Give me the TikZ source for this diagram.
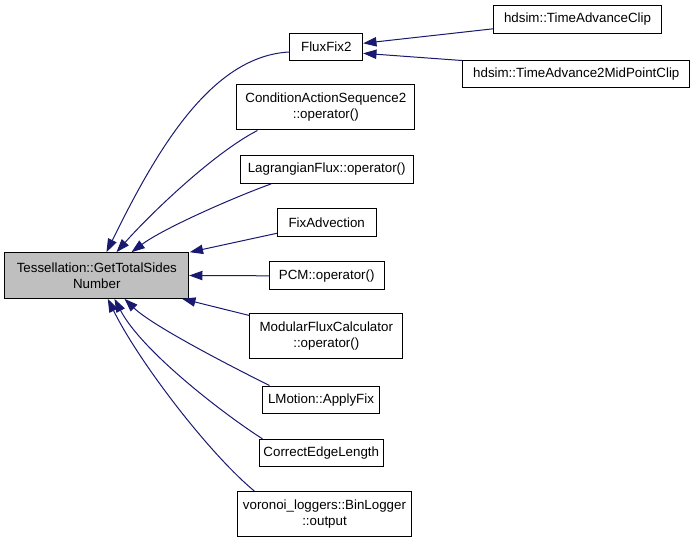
\documentclass[tikz,border=0pt]{standalone}
\usepackage{fontspec}
\setmainfont{Liberation Sans}
\usetikzlibrary{arrows.meta}
\definecolor{edgeblue}{HTML}{191970}
\definecolor{mainfill}{HTML}{BFBFBF}
\begin{document}
\begin{tikzpicture}[x=0.75pt,y=-0.75pt,
  box/.style={draw=black,line width=0.75pt,fill=white,inner sep=0pt,align=center,
    font=\fontsize{10}{12}\selectfont},
  wh/.style 2 args={minimum width=#1*0.75pt,minimum height=#2*0.75pt},
  arr/.style={draw=edgeblue,line width=0.75pt,{Triangle[length=10pt,width=7pt]}-}]
\useasboundingbox (0,0) rectangle (696,541);
% nodes
\node[box,fill=mainfill,wh={183.7}{45.6}] (main) at (96.8,275.5) {Tessellation::GetTotalSides\\Number};
\node[box,wh={72.7}{27.4}] (ff2) at (326.3,47) {FluxFix2};
\node[box,wh={178.3}{45}] (cas) at (325.8,107.5) {ConditionActionSequence2\\::operator()};
\node[box,wh={173.3}{28.3}] (lag) at (326.7,169.2) {LagrangianFlux::operator()};
\node[box,wh={98.7}{28.4}] (fix) at (326.7,222.5) {FixAdvection};
\node[box,wh={114.7}{28.3}] (pcm) at (326.7,275.8) {PCM::operator()};
\node[box,wh={152.7}{45}] (mod) at (326.3,335.8) {ModularFluxCalculator\\::operator()};
\node[box,wh={116.6}{27.3}] (lmo) at (321,399.7) {LMotion::ApplyFix};
\node[box,wh={124}{26.7}] (cel) at (321.3,452.7) {CorrectEdgeLength};
\node[box,wh={174.4}{45}] (vor) at (324.5,514.2) {voronoi\_loggers::BinLogger\\::output};
\node[box,wh={168.4}{28.3}] (tac) at (577.5,19.2) {hdsim::TimeAdvanceClip};
\node[box,wh={227.3}{27.3}] (tam) at (576.3,73.7) {hdsim::TimeAdvance2MidPointClip};
% edges
\draw[arr] ([shift={(102,0)}]main.north west) .. controls (155.4,153) and (210,56) .. ([shift={(0,5)}]ff2.west);
\draw[arr] ([shift={(112,0)}]main.north west) .. controls (149.9,214.4) and (213.6,153) .. ([shift={(21.3,0)}]cas.south west);
\draw[arr] ([shift={(127,0)}]main.north west) .. controls (164,228) and (234.3,197.2) .. ([shift={(31.7,0)}]lag.south west);
\draw[arr] ([shift={(0.6,0)}]main.north east) -- ([shift={(0,10.8)}]fix.west);
\draw[arr] (main.east) -- (pcm.west);
\draw[arr] ([shift={(-7,0)}]main.south east) -- ([shift={(0,2.7)}]mod.north west);
\draw[arr] ([shift={(120,0)}]main.south west) .. controls (153,326.4) and (234,367.8) .. ([shift={(7.3,0)}]lmo.north west);
\draw[arr] ([shift={(110,0)}]main.south west) .. controls (142,351.4) and (224.3,414.5) .. ([shift={(3.7,0)}]cel.north west);
\draw[arr] ([shift={(103.3,0)}]main.south west) .. controls (138.4,361) and (208,452.5) .. ([shift={(17.7,0)}]vor.north west);
\draw[arr] ([shift={(0,-3.7)}]ff2.east) -- ([shift={(0,-5)}]tac.south west);
\draw[arr] ([shift={(0,6.3)}]ff2.east) -- ([shift={(0.3,1)}]tam.north west);
\end{tikzpicture}
\end{document}
